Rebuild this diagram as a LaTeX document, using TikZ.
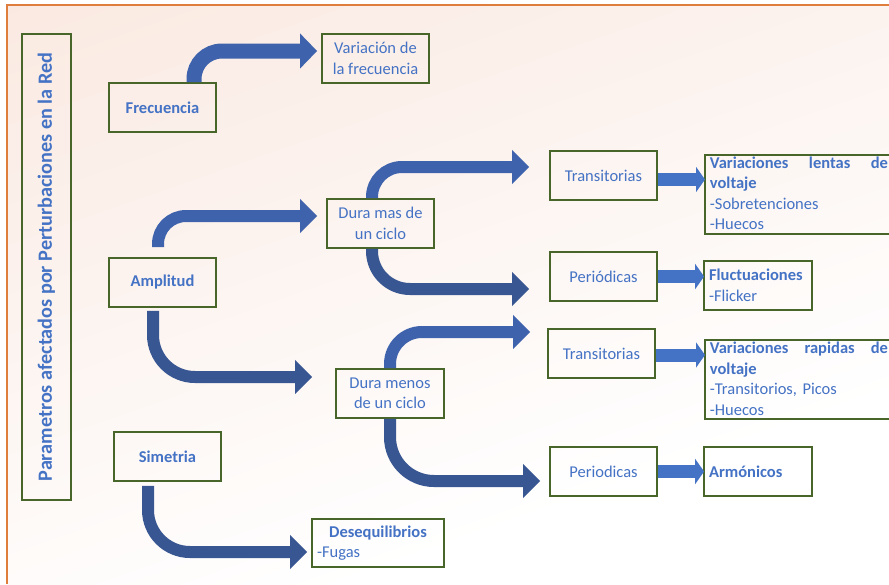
\documentclass[tikz,border=0pt]{standalone}
\usepackage{fontspec}
\setmainfont{Carlito}
\usetikzlibrary{arrows.meta,calc}
\definecolor{txtblue}{RGB}{68,114,196}
\definecolor{boxgreen}{RGB}{72,102,42}
\definecolor{arrowlight}{RGB}{62,99,172}
\definecolor{arrowdark}{RGB}{56,86,145}
\definecolor{smallblue}{RGB}{68,114,196}
\definecolor{framecol}{RGB}{222,125,60}
\definecolor{tintA}{RGB}{250,233,225}
\newcommand\dfont{\fontsize{16.5}{20.5}\selectfont}
\newcommand\tfont{\fontsize{20.2}{24}\selectfont}
\begin{document}
\begin{tikzpicture}[x=1pt,y=-1pt,
  box/.style={draw=boxgreen,line width=1.8pt,text=txtblue,inner sep=0pt,
    align=center,minimum width=107pt,minimum height=49pt,font=\dfont},
  listbox/.style={draw=boxgreen,line width=1.8pt,text=txtblue,inner xsep=5pt,
    inner ysep=0pt,align=left,font=\dfont},
  bigarrow/.style={line width=12pt,-{Triangle[length=17pt,width=33pt]}},
  smallarrow/.style={draw=smallblue,line width=13pt,-{Triangle[length=9pt,width=25pt]}}]
\useasboundingbox (0,0) rectangle (889,584);
\clip (0,0) rectangle (889,584);
% slide background: soft tint fading away from the top left corner in slanted bands
\fill[white] (0,0) rectangle (889,584);
\begin{scope}
  \clip (7,5) rectangle (889,584);
  \foreach \i in {0,...,89}{
    \pgfmathsetmacro\ca{5+10*\i}
    \pgfmathsetmacro\cb{\ca+11}
    \pgfmathsetmacro\pct{max(0,100*(1-(\ca+5)/700))}
    \fill[tintA!\pct!white] (7,\ca) -- (889,\ca-309) -- (889,\cb-309) -- (7,\cb) -- cycle;
  }
\end{scope}
\draw[framecol,line width=1.5pt] (7,584) -- (7,5) -- (889,5);

% title
\node[box,rotate=90,minimum width=466pt,minimum height=49pt,font=\tfont\bfseries]
  (title) at (46.5,267) {Parametros afectados por Perturbaciones en la Red};

% first level
\node[box,font=\dfont\bfseries] (frec) at (162.5,107.5) {Frecuencia};
\node[box,font=\dfont\bfseries] (ampl) at (162.5,282.5) {Amplitud};
\node[box,font=\dfont\bfseries] (sim) at (167.5,456.5) {Simetria};

% second level
\node[box] (varf) at (375.5,58.5) {Variación de\\la frecuencia};
\node[box] (duramas) at (380.5,223.5) {Dura mas de\\un ciclo};
\node[box,minimum width=108pt] (duramenos) at (390,393.5) {Dura menos\\de un ciclo};
\node[box,minimum width=132pt,minimum height=48pt,text width=122pt,align=left] (deseq) at (378,543)
  {\makebox[\linewidth]{\textbf{Desequilibrios}}\\-Fugas};

% third level
\node[box] (trans1) at (603.5,175.5) {Transitorias};
\node[box] (per1) at (603.5,276.5) {Periódicas};
\node[box] (trans2) at (601.5,353.5) {Transitorias};
\node[box] (per2) at (603.5,471.5) {Periodicas};

% effects
\node[listbox,anchor=north west,text width=178pt,inner xsep=5pt] (vlentas) at (704,154)
  {\rule{0pt}{13.5pt}\makebox[\linewidth][s]{\textbf{Variaciones\hfill lentas\hfill de}}\\\textbf{voltaje}\\-Sobretenciones\\-Huecos\rule[-4pt]{0pt}{4pt}};
\node[listbox,text width=98pt,minimum height=49pt] (fluct) at (758,285.5)
  {\textbf{Fluctuaciones}\\-Flicker};
\node[listbox,anchor=north west,text width=178pt] (vrap) at (704,339)
  {\rule{0pt}{13.7pt}\makebox[\linewidth][s]{\textbf{Variaciones\hfill rapidas\hfill de}}\\\textbf{voltaje}\\\mbox{-Transitorios, Picos}\\-Huecos\rule[-4pt]{0pt}{4pt}};
\node[listbox,text width=98pt,minimum height=49pt] (arm) at (758,471.5)
  {\textbf{Armónicos}};

% curved block arrows
\draw[bigarrow,arrowlight,line width=15pt,rounded corners=28pt,
  -{Triangle[length=17pt,width=34pt]}]
  ($(frec.north)+(31.5,0)$) |- ($(varf.west)+(-4,-7.5)$);
\draw[bigarrow,arrowlight,rounded corners=28pt]
  ($(ampl.north)+(-4.5,-10)$) |- ($(duramas.west)+(-9,-7.5)$);
\draw[bigarrow,arrowdark,rounded corners=42pt]
  ($(ampl.south)+(-9.5,3)$) |- ($(duramenos.west)+(-23,-16.5)$);
\draw[bigarrow,arrowdark,rounded corners=42pt]
  ($(sim.south)+(-19.5,4)$) |- ($(deseq.west)+(-4,9)$);
\draw[bigarrow,arrowlight,rounded corners=30pt]
  ($(duramas.north)+(-8.5,0)$) |- ($(trans1.west)+(-20,-8.5)$);
\draw[bigarrow,arrowdark,rounded corners=38pt]
  ($(duramas.south)+(-8.5,0)$) |- ($(per1.west)+(-20,12.5)$);
\draw[bigarrow,arrowlight,rounded corners=32pt]
  (duramenos.north) |- ($(trans2.west)+(-17,-21.5)$);
\draw[bigarrow,arrowdark,rounded corners=44pt]
  (duramenos.south) |- ($(per2.west)+(-9,9.5)$);

% short block arrows
\coordinate (t1s) at ($(trans1.east)+(0,4)$);
\coordinate (p1s) at (per1.east);
\coordinate (t2s) at ($(trans2.east)+(0,1.5)$);
\coordinate (p2s) at (per2.east);
\draw[smallarrow] (t1s) -- ($(t1s -| vlentas.west)+(1,0)$);
\draw[smallarrow] (p1s) -- ($(p1s -| fluct.west)+(1,0)$);
\draw[smallarrow] (t2s) -- ($(t2s -| vrap.west)+(1,0)$);
\draw[smallarrow] (p2s) -- ($(p2s -| arm.west)+(1,0)$);
\end{tikzpicture}
\end{document}
